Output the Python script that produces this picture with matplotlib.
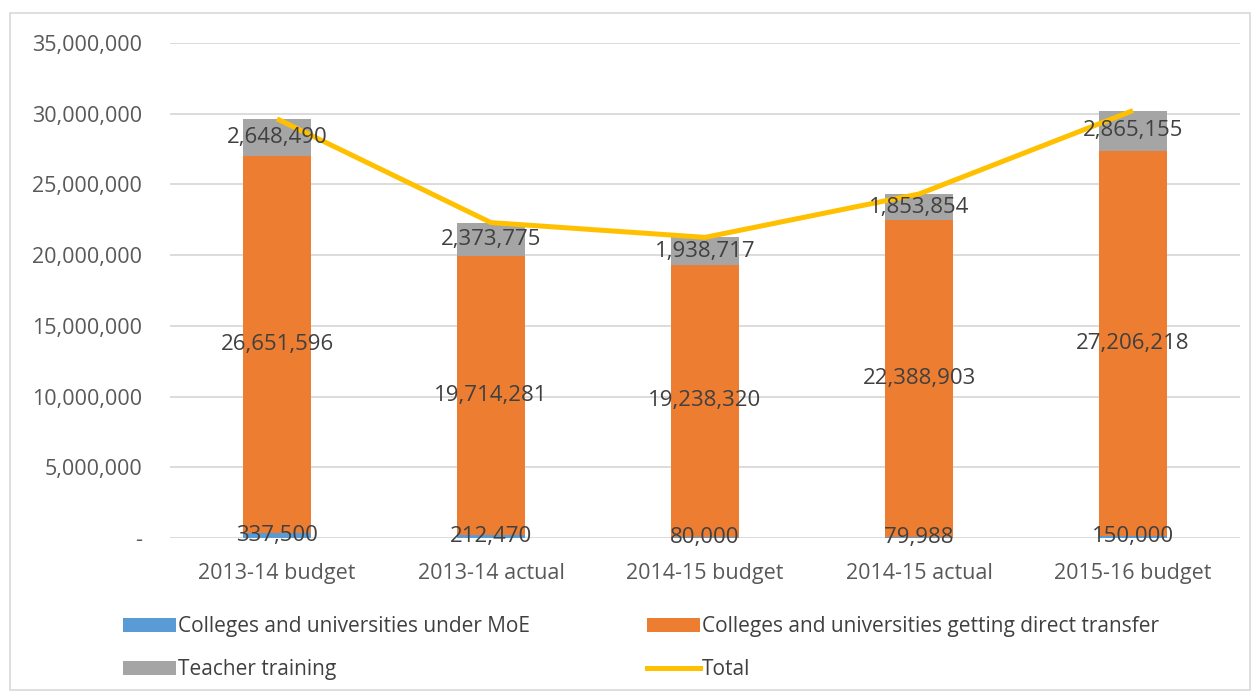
import numpy as np
import matplotlib.pyplot as plt
from matplotlib.ticker import FuncFormatter
from matplotlib.patches import Rectangle
from matplotlib.lines import Line2D

plt.rcParams['font.family'] = ['Open Sans', 'DejaVu Sans']

categories = ['2013-14 budget', '2013-14 actual', '2014-15 budget', '2014-15 actual', '2015-16 budget']
moe = [337500, 212470, 80000, 79988, 150000]
direct = [26651596, 19714281, 19238320, 22388903, 27206218]
teacher = [2648490, 2373775, 1938717, 1853854, 2865155]

C_BLUE = '#5B9BD5'
C_ORANGE = '#ED7D31'
C_GRAY = '#A5A5A5'
C_GOLD = '#FFC000'
TXT = '#404040'
TICK = '#595959'

moe_a = np.array(moe)
direct_a = np.array(direct)
teacher_a = np.array(teacher)
total = moe_a + direct_a + teacher_a

fig = plt.figure(figsize=(12.54, 6.94), dpi=100)
ax = fig.add_axes([170/1254, 1-538/694, 1070/1254, 495/694])

x = np.arange(len(categories))
w = 0.315
b1 = ax.bar(x, moe_a, w, color=C_BLUE, zorder=2)
b2 = ax.bar(x, direct_a, w, bottom=moe_a, color=C_ORANGE, zorder=2)
b3 = ax.bar(x, teacher_a, w, bottom=moe_a + direct_a, color=C_GRAY, zorder=2)
ax.plot(x, total, color=C_GOLD, lw=3.6, zorder=3, solid_capstyle='butt')

for bars, vals in [(b1, moe), (b2, direct), (b3, teacher)]:
    ax.bar_label(bars, labels=[f'{v:,}' for v in vals], label_type='center',
                 fontsize=16, color=TXT, zorder=4)

ax.set_xlim(-0.5, 4.5)
ax.set_ylim(0, 35000000)
ax.set_yticks(np.arange(0, 35000001, 5000000))
ax.yaxis.set_major_formatter(FuncFormatter(lambda v, p: '-' if v == 0 else f'{v:,.0f}'))
ax.set_xticks(x)
ax.set_xticklabels(categories)
ax.tick_params(axis='both', length=0, labelsize=15.5, colors=TICK)
ax.tick_params(axis='y', pad=20)
ax.tick_params(axis='x', pad=18)
for s in ax.spines.values():
    s.set_visible(False)
ax.grid(axis='y', color='#D9D9D9', lw=1.3, zorder=0)
ax.set_axisbelow(True)

# legend filled column by column, so order gives row-wise layout
handles = [b1, b3, b2, Line2D([], [], color=C_GOLD, lw=3.6)]
labels = ['Colleges and universities under MoE', 'Teacher training',
          'Colleges and universities getting direct transfer', 'Total']
leg = fig.legend(handles, labels, ncol=2, loc='upper left', bbox_to_anchor=(123/1254, 1-616/694),
                 frameon=False, fontsize=15, handlelength=2.55, handleheight=0.65, handletextpad=0.1,
                 columnspacing=5.6, labelspacing=1.05, borderaxespad=0, borderpad=0)
for t in leg.get_texts():
    t.set_color(TXT)

fig.patches.append(Rectangle((10/1254, 4/694), 1240/1254, 677/694, transform=fig.transFigure,
                             fill=False, edgecolor='#D9D9D9', lw=1.2))

fig.savefig('out.png', dpi=100)
